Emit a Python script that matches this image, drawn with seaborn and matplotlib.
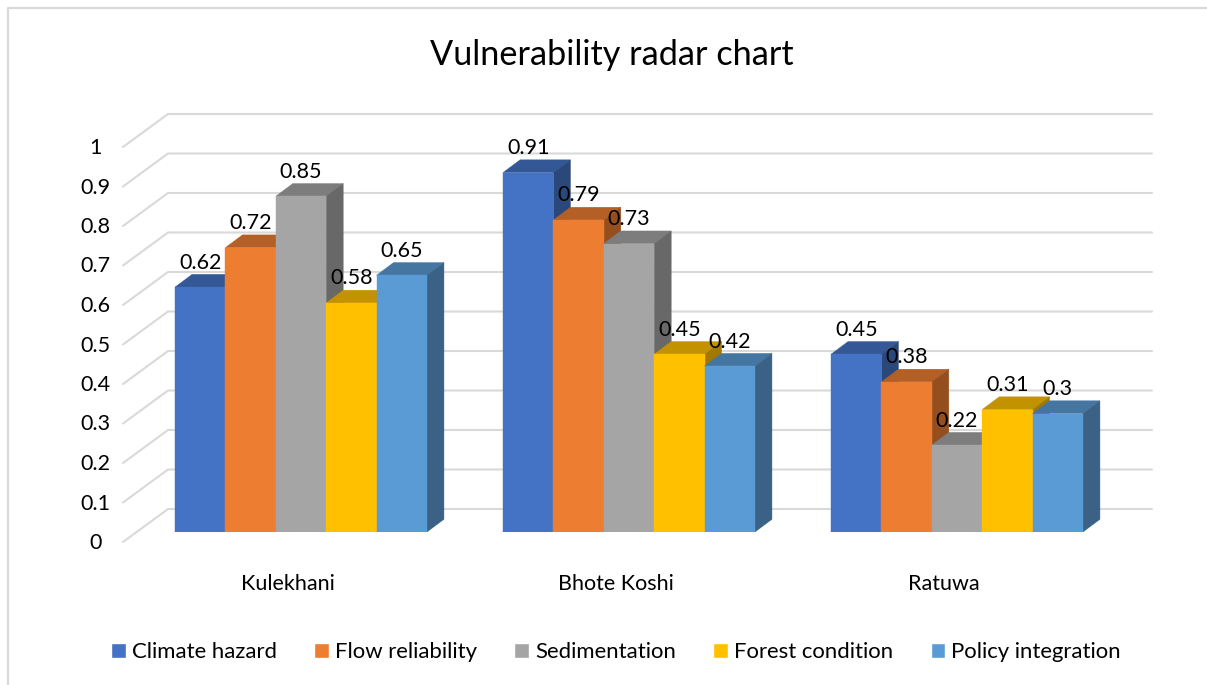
import matplotlib
matplotlib.use("Agg")
import matplotlib.pyplot as plt
import matplotlib.transforms as mtransforms
from matplotlib.lines import Line2D
from matplotlib.patches import Polygon
import pandas as pd
import seaborn as sns

# Data
sites = ['Kulekhani', 'Bhote Koshi', 'Ratuwa']
factors = ['Climate hazard', 'Flow reliability', 'Sedimentation', 'Forest condition', 'Policy integration']
climate_hazard = [0.62, 0.91, 0.45]
flow_reliability = [0.72, 0.79, 0.38]
sedimentation = [0.85, 0.73, 0.22]
forest_condition = [0.58, 0.45, 0.31]
policy_integration = [0.65, 0.42, 0.30]
y_ticks = [0, 0.1, 0.2, 0.3, 0.4, 0.5, 0.6, 0.7, 0.8, 0.9, 1]
y_tick_labels = ['0', '0.1', '0.2', '0.3', '0.4', '0.5', '0.6', '0.7', '0.8', '0.9', '1']

colors = ['#4472C4', '#ED7D31', '#A5A5A5', '#FFC000', '#5B9BD5']
grid_color = '#D9D9D9'
W, H = 1207, 685

sns.set_theme(style="white")
plt.rcParams['font.family'] = ['Lato', 'DejaVu Sans']

df = pd.DataFrame({'site': sites * 5,
                   'factor': [f for f in factors for _ in sites],
                   'score': climate_hazard + flow_reliability + sedimentation
                            + forest_condition + policy_integration})

fig = plt.figure(figsize=(W / 100, H / 100), dpi=100)
# axes box = front plane of the bars, in pixels of the reference
ax = fig.add_axes([137 / W, 1 - 532 / H, 984 / W, 395 / H])

sns.barplot(data=df, x='site', y='score', hue='factor', palette=colors, saturation=1,
            width=0.768, gap=0, ax=ax)
ax.set_xlim(-0.5, 2.5)
ax.set_ylim(0, 1)
ax.set_xlabel('')
ax.set_ylabel('')
sns.despine(ax=ax, left=True, bottom=True)

# fake 3D depth, in data units
px_x = 3 / 984
px_y = 1 / 395
bar_dx, bar_dy = 17 * px_x, 12.7 * px_y
wall_dx, wall_dy = 31 * px_x, 23 * px_y
stub_dx, stub_dy = -14 * px_x, -10 * px_y


def shade(color, k):
    r, g, b = matplotlib.colors.to_rgb(color)
    return (r * k, g * k, b * k)


# back wall grid and the left side stubs
for v in y_ticks:
    ax.plot([-0.5 + stub_dx, -0.5 + wall_dx, 2.5 + wall_dx],
            [v + stub_dy, v + wall_dy, v + wall_dy],
            color=grid_color, lw=1.5, zorder=1, clip_on=False)

# top and side faces, painted left to right inside each group
for i, container in enumerate(ax.containers):
    c = colors[i]
    for bar in container:
        x0 = bar.get_x()
        x1 = x0 + bar.get_width()
        h = bar.get_height()
        bar.set_edgecolor(c)
        bar.set_linewidth(0.3)
        bar.set_zorder(3 + i)
        top = shade(c, 0.76)
        side = shade(c, 0.63)
        ax.add_patch(Polygon([(x0, h), (x1, h), (x1 + bar_dx, h + bar_dy), (x0 + bar_dx, h + bar_dy)],
                             closed=True, facecolor=top, edgecolor=top, linewidth=0.3,
                             zorder=2.5 + i, clip_on=False))
        ax.add_patch(Polygon([(x1, 0), (x1 + bar_dx, bar_dy), (x1 + bar_dx, h + bar_dy), (x1, h)],
                             closed=True, facecolor=side, edgecolor=side, linewidth=0.3,
                             zorder=2.5 + i, clip_on=False))
    ax.bar_label(container, fmt='%g', padding=10.5, fontsize=15.5, color='black',
                 zorder=20, clip_on=False)

ax.set_xlim(-0.5, 2.5)
ax.set_ylim(0, 1)

# ticks
ax.set_yticks(y_ticks, y_tick_labels)
ax.tick_params(axis='y', length=0, pad=30, labelsize=15.5, labelcolor='black')
ax.tick_params(axis='x', length=0, pad=30, labelsize=15.5, labelcolor='black')
y_shift = mtransforms.ScaledTranslation(0, -0.09, fig.dpi_scale_trans)
x_shift = mtransforms.ScaledTranslation(-0.135, 0, fig.dpi_scale_trans)
for label in ax.get_yticklabels():
    label.set_ha('center')
    label.set_transform(label.get_transform() + y_shift)
for label in ax.get_xticklabels():
    label.set_transform(label.get_transform() + x_shift)

ax.set_title('Vulnerability radar chart', fontsize=24.7, color='black',
             x=(612 - 137) / 984, pad=52)

# legend
handles, labels = ax.get_legend_handles_labels()
ax.legend(handles, labels, ncol=5, loc='center', bbox_to_anchor=(616 / W, 1 - 652 / H),
          bbox_transform=fig.transFigure, frameon=False, fontsize=15.9,
          handlelength=0.65, handleheight=0.65, handletextpad=0.28, columnspacing=1.7,
          labelcolor='black')

# chart frame
fig.add_artist(Line2D([8 / W, 8 / W, 1], [0, 1 - 8 / H, 1 - 8 / H], color=grid_color, lw=1.6))

plt.savefig('out.png', dpi=100)
plt.close()
